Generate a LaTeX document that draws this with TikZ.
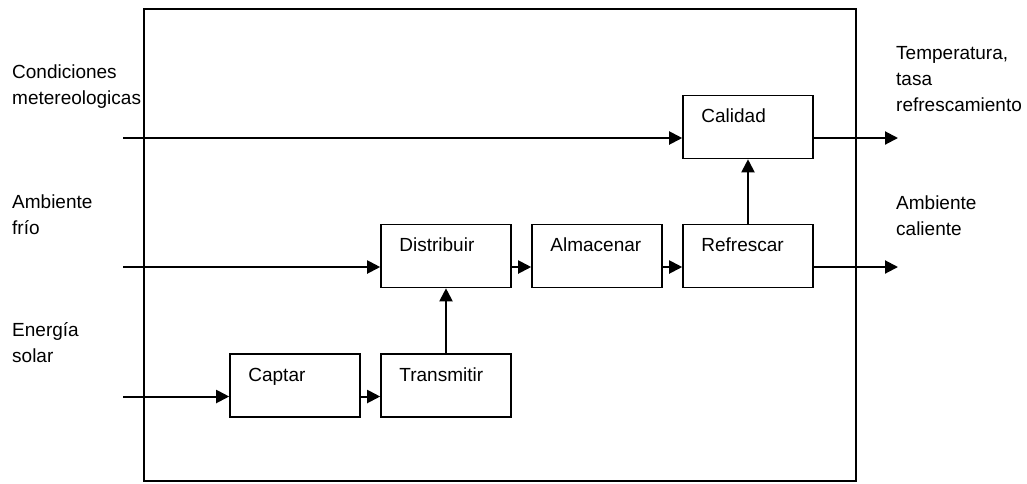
\documentclass[tikz,border=0pt]{standalone}
\usepackage{fontspec}
\setmainfont{Liberation Sans}
\usetikzlibrary{arrows.meta}
\begin{document}
\begin{tikzpicture}[x=1pt,y=-1pt,
  every node/.style={font=\fontsize{19}{26}\selectfont},
  blk/.style={draw, line width=1.6pt, minimum width=130pt, minimum height=63pt, inner sep=0,
    label={[anchor=base west, inner sep=0, xshift=19pt, yshift=-28pt]north west:#1}},
  frame/.style={draw, line width=1.6pt, minimum width=712pt, minimum height=472pt, inner sep=0},
  txt/.style={anchor=north west, inner sep=0, align=left},
  arr/.style={line width=2pt, -{Triangle[length=13pt,width=13pt]}}
]
\fill[white] (0,0) rectangle (1027,483);
\useasboundingbox (0,0) rectangle (1027,483);

% system boundary
\node[frame] (sys) at (500,245) {};

% blocks
\node[blk=Calidad]    (cal) at (748,127) {};
\node[blk=Refrescar]  (ref) at (748,256) {};
\node[blk=Distribuir] (dis) at (446,256) {};
\node[blk=Almacenar]  (alm) at (597,256) {};
\node[blk=Captar]     (cap) at (295,385.5) {};
\node[blk=Transmitir] (tra) at (446,385.5) {};

% labels
\node[txt] (lcond) at (12,59.8) {\strut Condiciones\\\strut metereologicas};
\node[txt] (lfrio) at (12,189.8) {\strut Ambiente\\\strut frío};
\node[txt] (lsol)  at (12,317.8) {\strut Energía\\\strut solar};
\node[txt] (ltemp) at (896,40.8) {\strut Temperatura,\\\strut tasa\\\strut refrescamiento};
\node[txt] (lcal)  at (896,190.8) {\strut Ambiente\\\strut caliente};

% free ends
\coordinate (in1) at (123,138);
\coordinate (in2) at (123,267);
\coordinate (in3) at (123,396.5);
\coordinate (out1) at (898,138);
\coordinate (out2) at (898,267);

% connectors
\draw[arr] (in1) -- ([yshift=-11pt]cal.west);
\draw[arr] (in2) -- ([yshift=-11pt]dis.west);
\draw[arr] (in3) -- ([yshift=-11pt]cap.west);
\draw[arr] ([yshift=-11pt]cap.east) -- ([yshift=-11pt]tra.west);
\draw[arr] (tra.north) -- (dis.south);
\draw[arr] ([yshift=-11pt]dis.east) -- ([yshift=-11pt]alm.west);
\draw[arr] ([yshift=-11pt]alm.east) -- ([yshift=-11pt]ref.west);
\draw[arr] (ref.north) -- (cal.south);
\draw[arr] ([yshift=-11pt]cal.east) -- (out1);
\draw[arr] ([yshift=-11pt]ref.east) -- (out2);
\end{tikzpicture}
\end{document}
